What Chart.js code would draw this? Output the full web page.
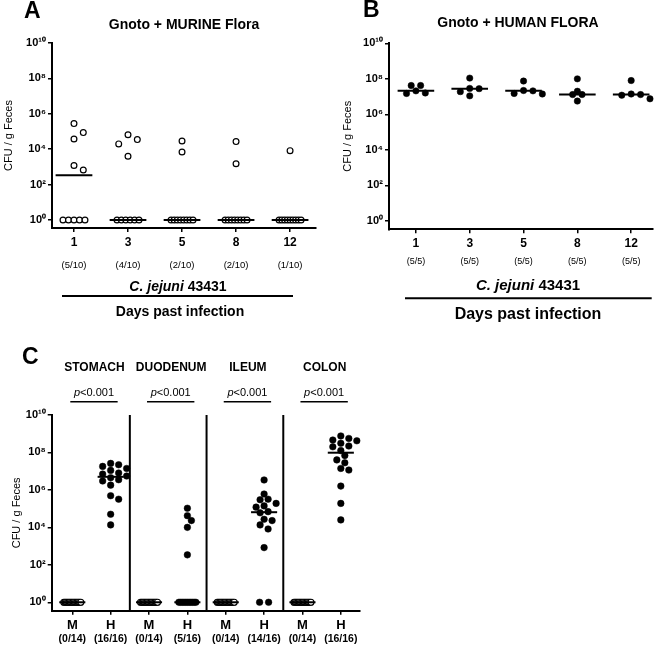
<!DOCTYPE html>
<html><head><meta charset="utf-8">
<script src="https://cdn.jsdelivr.net/npm/chart.js@4/dist/chart.umd.min.js"></script>
<style>
html,body{margin:0;padding:0;background:#fff;}
body{width:661px;height:648px;position:relative;overflow:hidden;}
.panel{position:absolute;}
canvas{display:block;}
</style></head><body>
<div class="panel" style="left:0;top:0;"><canvas id="ca" width="330" height="325"></canvas></div>
<div class="panel" style="left:330px;top:0;"><canvas id="cb" width="331" height="325"></canvas></div>
<div class="panel" style="left:0;top:330px;"><canvas id="cc" width="370" height="318"></canvas></div>
<script>
// ---------------- DATA ----------------
const yTickValues = [1, 1e2, 1e4, 1e6, 1e8, 1e10];
const dayLabels = ['1', '3', '5', '8', '12'];
const murineFractions = ['(5/10)', '(4/10)', '(2/10)', '(2/10)', '(1/10)'];
const humanFractions = ['(5/5)', '(5/5)', '(5/5)', '(5/5)', '(5/5)'];

// Panel A: Gnoto + MURINE flora, CFU / g feces (1 = below detection, plotted at 10^0)
const murineDay1  = [2.8e5, 8.7e4, 3.8e4, 1.2e3, 6.7e2, 1, 1, 1, 1, 1];
const murineDay3  = [6.6e4, 3.5e4, 2.0e4, 4.0e3, 1, 1, 1, 1, 1, 1];
const murineDay5  = [2.9e4, 7.0e3, 1, 1, 1, 1, 1, 1, 1, 1];
const murineDay8  = [2.7e4, 1.5e3, 1, 1, 1, 1, 1, 1, 1, 1];
const murineDay12 = [8.3e3, 1, 1, 1, 1, 1, 1, 1, 1, 1];

// Panel B: Gnoto + HUMAN flora
const humanDay1  = [4.2e7, 4.2e7, 2.1e7, 1.6e7, 1.5e7];
const humanDay3  = [1.1e8, 2.9e7, 2.8e7, 1.9e7, 1.1e7];
const humanDay5  = [7.5e7, 2.2e7, 2.1e7, 1.5e7, 1.4e7];
const humanDay8  = [1.0e8, 2.0e7, 1.3e7, 1.3e7, 5.6e6];
const humanDay12 = [8.0e7, 1.4e7, 1.3e7, 1.2e7, 7.5e6];

// Panel C: tissues, M = murine flora, H = human flora
const tissueNames = ['STOMACH', 'DUODENUM', 'ILEUM', 'COLON'];
const pValueLabels = ['<0.001', '<0.001', '<0.001', '<0.001'];
const gutLabels = ['M', 'H', 'M', 'H', 'M', 'H', 'M', 'H'];
const gutFractions = ['(0/14)', '(16/16)', '(0/14)', '(5/16)', '(0/14)', '(14/16)', '(0/14)', '(16/16)'];
const stomachM  = [1, 1, 1, 1, 1, 1, 1, 1, 1, 1, 1, 1, 1, 1];
const stomachH  = [2.6e7, 2.2e7, 1.8e7, 1.4e7, 1.1e7, 8.0e6, 7.0e6, 5.5e6, 4.5e6, 3.5e6, 3.0e6, 1.8e6, 4.9e5, 3.2e5, 5.0e4, 1.35e4];
const duodenumM = [1, 1, 1, 1, 1, 1, 1, 1, 1, 1, 1, 1, 1, 1];
const duodenumH = [1.05e5, 4.2e4, 2.3e4, 1.0e4, 3.4e2, 1, 1, 1, 1, 1, 1, 1, 1, 1, 1, 1];
const ileumM    = [1, 1, 1, 1, 1, 1, 1, 1, 1, 1, 1, 1, 1, 1];
const ileumH    = [3.4e6, 6.0e5, 3.2e5, 3.0e5, 1.9e5, 1.4e5, 1.2e5, 6.9e4, 6.0e4, 2.7e4, 2.3e4, 1.35e4, 8.2e3, 8.3e2, 1, 1];
const colonM    = [1, 1, 1, 1, 1, 1, 1, 1, 1, 1, 1, 1, 1, 1];
const colonH    = [7.6e8, 5.6e8, 4.6e8, 4.2e8, 3.1e8, 2.2e8, 2.0e8, 1.26e8, 6.8e7, 4.0e7, 2.8e7, 1.4e7, 1.15e7, 1.6e6, 1.9e5, 2.5e4];

// ---------------- HELPERS ----------------
const FF = "'Liberation Sans', Arial, Helvetica, sans-serif";
Chart.defaults.font.family = FF;
Chart.defaults.color = '#000';

const SUP = {'0':'\u2070','1':'\u00B9','2':'\u00B2','3':'\u00B3','4':'\u2074','5':'\u2075','6':'\u2076','7':'\u2077','8':'\u2078','9':'\u2079'};
function decadeLabel(v) {
  const e = Math.round(Math.log10(v));
  return '10' + String(e).split('').map(d => SUP[d]).join('');
}
function median(arr) {
  const s = arr.slice().sort((a, b) => a - b), n = s.length;
  return n % 2 ? s[(n - 1) / 2] : (s[n / 2 - 1] + s[n / 2]) / 2;
}
function medianDatasets(groups) {
  return groups.map(g => {
    const m = median(g.values);
    return { data: [{x: g.cat - 0.34, y: m}, {x: g.cat + 0.34, y: m}], showLine: true,
             borderColor: '#000', borderWidth: 2, pointRadius: 0, order: 0, clip: false };
  });
}
const axisGrid = { display: true, drawOnChartArea: false, drawTicks: true, tickLength: 4, color: '#000', lineWidth: 1.5 };
const axisBorder = { display: true, color: '#000', width: 2 };
function xScale(min, max, labels, height, fontSize, pad) {
  return { type: 'linear', bounds: 'data', min, max,
    afterBuildTicks: s => { s.ticks = labels.map((_, i) => ({value: i})); },
    afterFit: s => { s.height = height; },
    ticks: { callback: (v, i) => labels[i], autoSkip: false, maxRotation: 0, minRotation: 0,
             font: {size: fontSize, weight: 'bold'}, color: '#000', padding: pad },
    grid: axisGrid, border: axisBorder };
}
function yScale(minExp, width, titlePad) {
  return { type: 'logarithmic', bounds: 'data', min: Math.pow(10, minExp), max: 1e10,
    afterBuildTicks: s => { s.ticks = yTickValues.map(v => ({value: v})); },
    afterFit: s => { s.width = width; },
    ticks: { callback: v => decadeLabel(v), autoSkip: false, font: {size: 11, weight: 'bold'}, color: '#000', padding: 2 },
    grid: axisGrid, border: axisBorder,
    title: { display: true, text: 'CFU / g Feces', font: {size: 11}, color: '#000', padding: {top: titlePad, bottom: 0} } };
}
function txt(ctx, s, x, y, font, align) {
  ctx.save(); ctx.font = font; ctx.fillStyle = '#000'; ctx.textAlign = align || 'center';
  ctx.textBaseline = 'middle'; ctx.fillText(s, x, y); ctx.restore();
}
function mixed(ctx, parts, cx, y) {
  ctx.save(); ctx.textBaseline = 'middle'; ctx.fillStyle = '#000'; ctx.textAlign = 'left';
  let w = 0;
  parts.forEach(p => { ctx.font = p.f; p.w = ctx.measureText(p.t).width; w += p.w; });
  let x = cx - w / 2;
  parts.forEach(p => { ctx.font = p.f; ctx.fillText(p.t, x, y); x += p.w; });
  ctx.restore();
}
function hline(ctx, x1, x2, y, w) {
  ctx.save(); ctx.strokeStyle = '#000'; ctx.lineWidth = w; ctx.beginPath();
  ctx.moveTo(x1, y); ctx.lineTo(x2, y); ctx.stroke(); ctx.restore();
}
// beeswarm-style placement computed in pixel space through the chart's own scales
function swarm(chart, groups, cfg) {
  const xs = chart.scales.x, ys = chart.scales.y, out = [];
  groups.forEach(g => {
    const cx = xs.getPixelForValue(g.cat);
    const placed = [], done = new Set(), counts = new Map();
    const vals = g.values.slice().sort((a, b) => b - a);
    vals.forEach(v => counts.set(v, (counts.get(v) || 0) + 1));
    vals.forEach(v => {
      const n = counts.get(v), py = ys.getPixelForValue(v);
      if (n > 1) {
        if (done.has(v)) return;
        done.add(v);
        const sp = Math.min(cfg.rowStep, cfg.rowSpan / (n - 1));
        for (let i = 0; i < n; i++) {
          const px = cx + (i - (n - 1) / 2) * sp;
          placed.push({px, py}); out.push({x: xs.getValueForPixel(px), y: v});
        }
      } else {
        let px = cx;
        for (let k = 0; k < 40; k++) {
          const off = k === 0 ? 0 : (k % 2 ? 1 : -1) * Math.ceil(k / 2) * cfg.step;
          px = cx + off;
          if (placed.every(p => Math.hypot(p.px - px, p.py - py) >= cfg.minDist)) break;
        }
        placed.push({px, py}); out.push({x: xs.getValueForPixel(px), y: v});
      }
    });
  });
  return out;
}
function baseOptions(padding, scales) {
  return { responsive: false, animation: false, events: [], layout: {padding},
    plugins: {legend: {display: false}, tooltip: {enabled: false}}, scales };
}
const openPt = { backgroundColor: '#fff', borderColor: '#000', borderWidth: 1.2, pointRadius: 2.9, order: 1, clip: false };
const fillPt = { backgroundColor: '#000', borderColor: '#000', borderWidth: 0.5, pointRadius: 3.2, order: 1, clip: false };

// ---------------- PANEL A ----------------
const groupsA = [murineDay1, murineDay3, murineDay5, murineDay8, murineDay12].map((v, i) => ({cat: i, values: v}));
const chartA = new Chart(document.getElementById('ca'), {
  type: 'scatter',
  data: { datasets: [...medianDatasets(groupsA), Object.assign({data: []}, openPt)] },
  options: baseOptions({left: 0, top: 43, right: 14, bottom: 0}, {
    x: xScale(-0.407, 4.48, dayLabels, 97, 12, 3),
    y: yScale(-0.45, 52, 2.4)
  }),
  plugins: [{ id: 'textA', afterDraw(chart) {
    const ctx = chart.ctx, xs = chart.scales.x;
    txt(ctx, 'A', 24, 12, `bold 23px ${FF}`, 'left');
    txt(ctx, 'Gnoto + MURINE Flora', 184, 25, `bold 14px ${FF}`);
    murineFractions.forEach((f, i) => txt(ctx, f, xs.getPixelForValue(i), 265, `9.5px ${FF}`));
    mixed(ctx, [{t: 'C. jejuni', f: `italic bold 14px ${FF}`}, {t: ' 43431', f: `bold 14px ${FF}`}], 178, 286.7);
    hline(ctx, 62, 293, 296, 2);
    txt(ctx, 'Days past infection', 180, 311.7, `bold 14px ${FF}`);
  }}]
});
chartA.data.datasets[groupsA.length].data = swarm(chartA, groupsA, {step: 9.3, minDist: 9.2, rowStep: 9.3, rowSpan: 22});
chartA.update('none');

// ---------------- PANEL B ----------------
const groupsB = [humanDay1, humanDay3, humanDay5, humanDay8, humanDay12].map((v, i) => ({cat: i, values: v}));
const chartB = new Chart(document.getElementById('cb'), {
  type: 'scatter',
  data: { datasets: [...medianDatasets(groupsB), Object.assign({data: []}, fillPt)] },
  options: baseOptions({left: 0, top: 43.3, right: 8.3, bottom: 0}, {
    x: xScale(-0.5, 4.4, dayLabels, 95.7, 12, 3),
    y: yScale(-0.47, 59, 11.4)
  }),
  plugins: [{ id: 'textB', afterDraw(chart) {
    const ctx = chart.ctx, xs = chart.scales.x;
    txt(ctx, 'B', 33, 11, `bold 23px ${FF}`, 'left');
    txt(ctx, 'Gnoto + HUMAN FLORA', 188, 23, `bold 14px ${FF}`);
    humanFractions.forEach((f, i) => txt(ctx, f, xs.getPixelForValue(i), 261.7, `9px ${FF}`));
    mixed(ctx, [{t: 'C. jejuni', f: `italic bold 15px ${FF}`}, {t: ' 43431', f: `bold 15px ${FF}`}], 198, 286);
    hline(ctx, 75, 321.7, 298.3, 2);
    txt(ctx, 'Days past infection', 198, 315, `bold 16px ${FF}`);
  }}]
});
chartB.data.datasets[groupsB.length].data = swarm(chartB, groupsB, {step: 4.7, minDist: 6.5, rowStep: 9.4, rowSpan: 24});
chartB.update('none');

// ---------------- PANEL C ----------------
const mGroupsC = [stomachM, duodenumM, ileumM, colonM].map((v, i) => ({cat: 2 * i, values: v}));
const hGroupsC = [stomachH, duodenumH, ileumH, colonH].map((v, i) => ({cat: 2 * i + 1, values: v}));
const groupsC = [mGroupsC[0], hGroupsC[0], mGroupsC[1], hGroupsC[1], mGroupsC[2], hGroupsC[2], mGroupsC[3], hGroupsC[3]];
const chartC = new Chart(document.getElementById('cc'), {
  type: 'scatter',
  data: { datasets: [...medianDatasets(groupsC), Object.assign({data: []}, openPt, {pointRadius: 3.0}), Object.assign({data: []}, fillPt, {pointRadius: 3.3})] },
  options: baseOptions({left: 0, top: 85, right: 10, bottom: 0}, {
    x: xScale(-0.537, 7.5, gutLabels, 37.3, 13, 3),
    y: yScale(-0.45, 51.7, 10.1)
  }),
  plugins: [{ id: 'textC',
    beforeDatasetsDraw(chart) {
      const ctx = chart.ctx, xs = chart.scales.x, ys = chart.scales.y;
      [1.5, 3.5, 5.5].forEach(b => {
        const x = xs.getPixelForValue(b);
        ctx.save(); ctx.strokeStyle = '#000'; ctx.lineWidth = 2; ctx.beginPath();
        ctx.moveTo(x, ys.getPixelForValue(1e10)); ctx.lineTo(x, chart.chartArea.bottom); ctx.stroke(); ctx.restore();
      });
    },
    afterDraw(chart) {
      const ctx = chart.ctx, xs = chart.scales.x;
      txt(ctx, 'C', 22, 28, `bold 23px ${FF}`, 'left');
      tissueNames.forEach((t, i) => {
        const xm = xs.getPixelForValue(2 * i), xh = xs.getPixelForValue(2 * i + 1);
        txt(ctx, t, (xm + xh) / 2 + 3, 37.7, `bold 12px ${FF}`);
        const l1 = xm - 2, l2 = xh + 7;
        mixed(ctx, [{t: 'p', f: `italic 11px ${FF}`}, {t: pValueLabels[i], f: `11px ${FF}`}], (l1 + l2) / 2, 63.3);
        hline(ctx, l1, l2, 71.7, 1.5);
      });
      gutFractions.forEach((f, i) => txt(ctx, f, xs.getPixelForValue(i), 309, `bold 10.5px ${FF}`));
    }
  }]
});
const nMed = groupsC.length;
chartC.data.datasets[nMed].data = swarm(chartC, mGroupsC, {step: 4, minDist: 6, rowStep: 9, rowSpan: 17});
chartC.data.datasets[nMed + 1].data = swarm(chartC, hGroupsC, {step: 4, minDist: 6, rowStep: 9, rowSpan: 17});
chartC.update('none');
</script>
</body></html>
